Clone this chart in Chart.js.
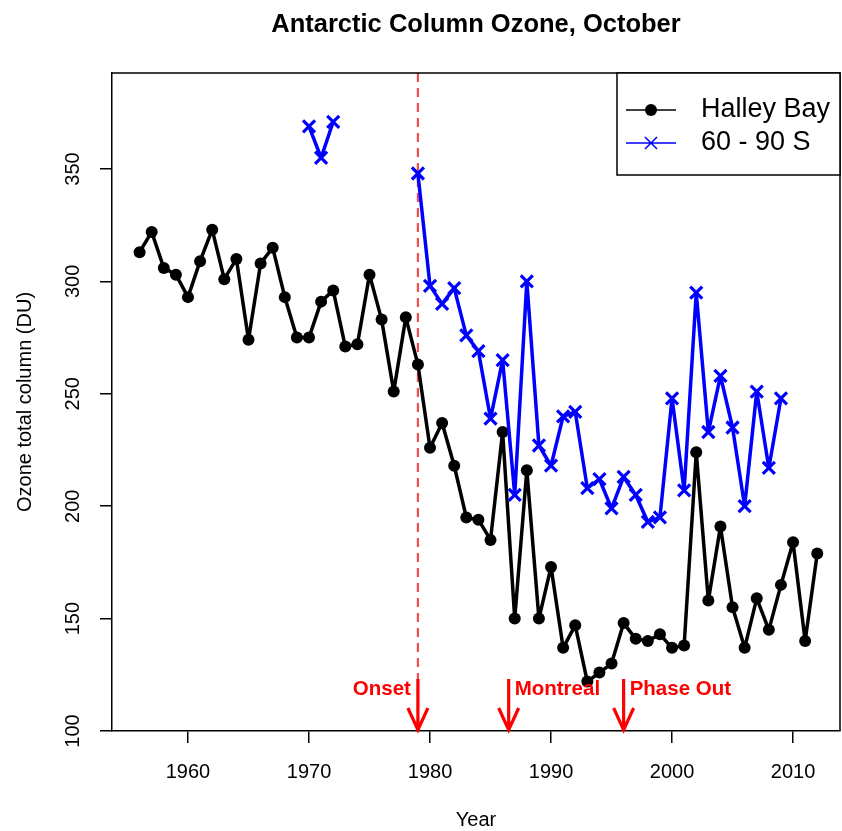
<!DOCTYPE html>
<html>
<head>
<meta charset="utf-8">
<script src="https://cdn.jsdelivr.net/npm/chart.js@4.4.1/dist/chart.umd.min.js"></script>
<style>
  html, body { margin: 0; padding: 0; background: #ffffff; overflow: hidden; }
  #wrap { width: 842px; height: 831px; }
  canvas { display: block; }
</style>
</head>
<body>
<div id="wrap"><canvas id="c" width="842" height="831"></canvas></div>
<script>
// ---- data ----
const halleyYears = [1956,1957,1958,1959,1960,1961,1962,1963,1964,1965,1966,1967,1968,1969,1970,1971,1972,1973,1974,1975,1976,1977,1978,1979,1980,1981,1982,1983,1984,1985,1986,1987,1988,1989,1990,1991,1992,1993,1994,1995,1996,1997,1998,1999,2000,2001,2002,2003,2004,2005,2006,2007,2008,2009,2010,2011,2012];
const halleyValues = [313,322,306,303,293,309,323,301,310,274,308,315,293,275,275,291,296,271,272,303,283,251,284,263,226,237,218,195,194,185,233,150,216,150,173,137,147,122,126,130,148,141,140,143,137,138,224,158,191,155,137,159,145,165,184,140,179];

const zoneYears = [1970,1971,1972,1973,1974,1975,1976,1977,1978,1979,1980,1981,1982,1983,1984,1985,1986,1987,1988,1989,1990,1991,1992,1993,1994,1995,1996,1997,1998,1999,2000,2001,2002,2003,2004,2005,2006,2007,2008,2009];
const zoneValues = [369,355,371,null,null,null,null,null,null,348,298,290,297,276,269,239,265,205,300,227,218,240,242,208,212,199,213,205,193,195,248,207,295,233,258,235,200,251,217,248];

const seriesNames = ["Halley Bay", "60 - 90 S"];
const onsetYear = 1979;
const eventYears = [1979, 1986.5, 1996];
const eventLabels = ["Onset", "Montreal", "Phase Out"];
const xTickValues = [1960, 1970, 1980, 1990, 2000, 2010];
const yTickValues = [100, 150, 200, 250, 300, 350];
const titleText = "Antarctic Column Ozone, October";
const xTitle = "Year";
const yTitle = "Ozone total column (DU)";

const FONT = '"Liberation Sans", Arial, Helvetica, sans-serif';

const halleyData = halleyYears.map((y, i) => ({ x: y, y: halleyValues[i] }));
const zoneData = zoneYears.map((y, i) => ({ x: y, y: zoneValues[i] }));

const decor = {
  id: 'decor',
  beforeDatasetsDraw(chart) {
    const ctx = chart.ctx, a = chart.chartArea;
    const xs = chart.scales.x;
    const px = xs.getPixelForValue(onsetYear);
    ctx.save();
    ctx.strokeStyle = 'rgba(240,70,70,0.95)';
    ctx.lineWidth = 2.2;
    ctx.setLineDash([9, 6]);
    ctx.beginPath();
    ctx.moveTo(px, a.top);
    ctx.lineTo(px, a.bottom);
    ctx.stroke();
    ctx.restore();
  },
  afterDraw(chart) {
    const ctx = chart.ctx, a = chart.chartArea;
    const xs = chart.scales.x, ys = chart.scales.y;
    ctx.save();
    ctx.strokeStyle = '#000';
    ctx.lineWidth = 1.5;
    ctx.beginPath();
    ctx.moveTo(a.left, a.top);
    ctx.lineTo(a.right, a.top);
    ctx.lineTo(a.right, a.bottom);
    ctx.stroke();

    // arrows
    ctx.strokeStyle = '#ff0000';
    ctx.fillStyle = '#ff0000';
    ctx.lineWidth = 3.2;
    ctx.lineCap = 'butt';
    ctx.lineJoin = 'miter';
    const tipY = ys.getPixelForValue(100);
    const topY = tipY - 52;
    ctx.font = 'bold 20.5px ' + FONT;
    ctx.textBaseline = 'middle';
    eventYears.forEach((yr, i) => {
      const x = xs.getPixelForValue(yr);
      ctx.beginPath();
      ctx.moveTo(x, topY);
      ctx.lineTo(x, tipY - 1);
      ctx.moveTo(x - 10, tipY - 23);
      ctx.lineTo(x, tipY - 1);
      ctx.lineTo(x + 10, tipY - 23);
      ctx.stroke();
      if (i === 0) {
        ctx.textAlign = 'right';
        ctx.fillText(eventLabels[i], x - 7, topY + 10);
      } else {
        ctx.textAlign = 'left';
        ctx.fillText(eventLabels[i], x + 6, topY + 10);
      }
    });

    // tick labels
    ctx.fillStyle = '#000';
    ctx.font = '20px ' + FONT;
    ctx.textAlign = 'center';
    ctx.textBaseline = 'middle';
    xs.ticks.forEach(t => {
      ctx.fillText(String(t.value), xs.getPixelForValue(t.value), a.bottom + 41);
    });
    ys.ticks.forEach(t => {
      ctx.save();
      ctx.translate(a.left - 39, ys.getPixelForValue(t.value));
      ctx.rotate(-Math.PI / 2);
      ctx.fillText(String(t.value), 0, 0);
      ctx.restore();
    });
    ctx.fillText(xTitle, (a.left + a.right) / 2, a.bottom + 89);
    ctx.save();
    ctx.translate(a.left - 87, (a.top + a.bottom) / 2);
    ctx.rotate(-Math.PI / 2);
    ctx.fillText(yTitle, 0, 0);
    ctx.restore();
    ctx.font = 'bold 25.5px ' + FONT;
    ctx.fillText(titleText, (a.left + a.right) / 2, 25);

    // legend
    const lx = 617, ly = a.top, lw = a.right - 617, lh = 102;
    ctx.fillStyle = '#fff';
    ctx.fillRect(lx, ly, lw, lh);
    ctx.strokeStyle = '#000';
    ctx.lineWidth = 1.5;
    ctx.strokeRect(lx, ly, lw, lh);
    const rows = [ly + 37, ly + 70];
    ctx.strokeStyle = '#000';
    ctx.lineWidth = 1.5;
    ctx.beginPath();
    ctx.moveTo(626, rows[0]); ctx.lineTo(676, rows[0]); ctx.stroke();
    ctx.fillStyle = '#000';
    ctx.beginPath(); ctx.arc(651, rows[0], 6, 0, Math.PI * 2); ctx.fill();
    ctx.strokeStyle = '#0000ff';
    ctx.beginPath();
    ctx.moveTo(626, rows[1]); ctx.lineTo(676, rows[1]);
    ctx.moveTo(645, rows[1] - 6); ctx.lineTo(657, rows[1] + 6);
    ctx.moveTo(645, rows[1] + 6); ctx.lineTo(657, rows[1] - 6);
    ctx.stroke();
    ctx.fillStyle = '#000';
    ctx.font = '27px ' + FONT;
    ctx.textAlign = 'left';
    ctx.textBaseline = 'middle';
    ctx.fillText(seriesNames[0], 701, rows[0]);
    ctx.fillText(seriesNames[1], 701, rows[1]);
    ctx.restore();
  }
};

function fixX(s) { s.height = 100; s.paddingLeft = 0; s.paddingRight = 0; s.paddingTop = 0; s.paddingBottom = 0; }
function fixY(s) { s.width = 112; s.paddingLeft = 0; s.paddingRight = 0; s.paddingTop = 0; s.paddingBottom = 0; }

new Chart(document.getElementById('c'), {
  type: 'line',
  data: {
    datasets: [
      {
        label: seriesNames[1],
        data: zoneData,
        borderColor: '#0000ff',
        backgroundColor: '#0000ff',
        borderWidth: 3.5,
        borderJoinStyle: 'round',
        borderCapStyle: 'round',
        pointStyle: 'crossRot',
        pointRadius: 8.5,
        pointBorderWidth: 3.2,
        pointBorderColor: '#0000ff',
        spanGaps: false,
        tension: 0
      },
      {
        label: seriesNames[0],
        data: halleyData,
        borderColor: '#000000',
        backgroundColor: '#000000',
        borderWidth: 3.5,
        borderJoinStyle: 'round',
        borderCapStyle: 'round',
        pointStyle: 'circle',
        pointRadius: 6,
        pointBorderWidth: 0,
        tension: 0
      }
    ]
  },
  options: {
    responsive: false,
    devicePixelRatio: 1,
    animation: false,
    events: [],
    layout: { autoPadding: false, padding: { top: 73, right: 2, left: 0, bottom: 0 } },
    plugins: { legend: { display: false }, title: { display: false }, tooltip: { enabled: false } },
    scales: {
      x: {
        type: 'linear',
        min: 1953.72,
        max: 2013.88,
        afterBuildTicks: s => { s.ticks = xTickValues.map(v => ({ value: v })); },
        afterFit: fixX,
        ticks: { display: false },
        grid: { display: true, drawOnChartArea: false, drawTicks: true, tickLength: 12, color: '#000', lineWidth: 1.5 },
        border: { display: true, color: '#000', width: 1.5 }
      },
      y: {
        type: 'linear',
        min: 100,
        max: 392.7,
        afterBuildTicks: s => { s.ticks = yTickValues.map(v => ({ value: v })); },
        afterFit: fixY,
        ticks: { display: false },
        grid: { display: true, drawOnChartArea: false, drawTicks: true, tickLength: 12, color: '#000', lineWidth: 1.5 },
        border: { display: true, color: '#000', width: 1.5 }
      }
    }
  },
  plugins: [decor]
});
</script>
</body>
</html>
